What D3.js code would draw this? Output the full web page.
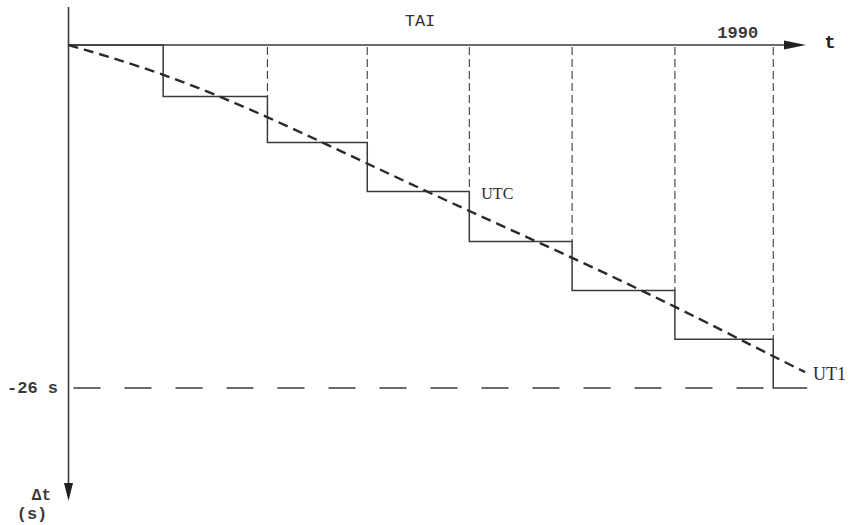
<!DOCTYPE html>
<html>
<head>
<meta charset="utf-8">
<script src="https://cdn.jsdelivr.net/npm/d3@7/dist/d3.min.js"></script>
<style>
  html, body { margin: 0; padding: 0; background: #fff; }
  svg { display: block; }
</style>
</head>
<body>
<svg id="chart" width="850" height="525"></svg>
<script>
// Time of each leap-second insertion (arbitrary time units along the TAI axis)
const stepTimes = [12.8, 26.9, 40.4, 54.2, 68.1, 82.0, 95.3];
// UTC - TAI offset (s) after each successive step; first entry is the start level
const utcLevels = [0, -3.9, -7.4, -11.1, -14.9, -18.6, -22.3, -26];
// UT1 - TAI (s), sampled along the time axis
const ut1Times  = [0, 12.8, 26.9, 40.4, 54.2, 68.1, 82.0, 95.3, 99.6];
const ut1Values = [0, -2.1, -5.4, -9.0, -12.6, -16.1, -19.8, -23.6, -24.8];
// Reference level marked on the vertical axis
const refLevel = -26;
const refLabel = "-26 s";
const endTime = 99.9;
const yearLabel = "1990";
const yearLabelTime = 90.5;

const svg = d3.select("#chart");
const ink = "#3a3a3a";

const x = d3.scaleLinear().domain([0, 100]).range([68.5, 808]);
const y = d3.scaleLinear().domain([0, -26]).range([45, 388]);

const mono = "'Liberation Mono', 'DejaVu Sans Mono', monospace";
const serif = "'Liberation Serif', 'DejaVu Serif', serif";

// ---- axes ----
// horizontal time axis (TAI) with arrow
svg.append("line")
  .attr("x1", x(0)).attr("y1", y(0))
  .attr("x2", 790).attr("y2", y(0))
  .attr("stroke", ink).attr("stroke-width", 1.6);
svg.append("path")
  .attr("d", `M784,${y(0) - 4.5} L806,${y(0)} L784,${y(0) + 4.5} Z`)
  .attr("fill", "#222");

// vertical Δt axis with arrow
svg.append("line")
  .attr("x1", x(0)).attr("y1", 7)
  .attr("x2", x(0)).attr("y2", 488)
  .attr("stroke", ink).attr("stroke-width", 1.6);
svg.append("path")
  .attr("d", `M${x(0) - 4.5},483 L${x(0)},501 L${x(0) + 4.5},483 Z`)
  .attr("fill", "#222");

// ---- dashed reference level ----
svg.append("line")
  .attr("x1", x(0) + 5).attr("y1", y(refLevel))
  .attr("x2", x(stepTimes[stepTimes.length - 1])).attr("y2", y(refLevel))
  .attr("stroke", ink).attr("stroke-width", 1.3)
  .attr("stroke-dasharray", "27,24");

// ---- dashed guides from the time axis down to each step ----
svg.selectAll("line.guide")
  .data(stepTimes.slice(1).map((t, i) => ({ t, level: utcLevels[i + 1] })))
  .join("line")
  .attr("class", "guide")
  .attr("x1", d => x(d.t)).attr("y1", y(0) + 2)
  .attr("x2", d => x(d.t)).attr("y2", d => y(d.level))
  .attr("stroke", ink).attr("stroke-width", 1.1)
  .attr("stroke-dasharray", "8,4");

// ---- UTC staircase ----
const stairPts = [[0, utcLevels[0]]];
stepTimes.forEach((t, i) => {
  stairPts.push([t, utcLevels[i]]);
  stairPts.push([t, utcLevels[i + 1]]);
});
stairPts.push([endTime, utcLevels[utcLevels.length - 1]]);

svg.append("path")
  .datum(stairPts)
  .attr("d", d3.line().x(d => x(d[0])).y(d => y(d[1])))
  .attr("fill", "none")
  .attr("stroke", ink).attr("stroke-width", 1.5);

// ---- UT1 curve ----
svg.append("path")
  .datum(ut1Times.map((t, i) => [t, ut1Values[i]]))
  .attr("d", d3.line().curve(d3.curveBasis).x(d => x(d[0])).y(d => y(d[1])))
  .attr("fill", "none")
  .attr("stroke", "#2a2a2a").attr("stroke-width", 2.4)
  .attr("stroke-dasharray", "10,6");

// ---- labels ----
svg.append("text").text("TAI")
  .attr("x", 420).attr("y", 26)
  .attr("text-anchor", "middle")
  .attr("font-family", mono).attr("font-size", 17).attr("fill", "#333");

svg.append("text").text(yearLabel)
  .attr("x", x(yearLabelTime)).attr("y", 38)
  .attr("text-anchor", "middle")
  .attr("font-family", mono).attr("font-weight", "bold")
  .attr("font-size", 17).attr("fill", "#3a3a3a");

svg.append("text").text("t")
  .attr("x", 830).attr("y", 48)
  .attr("text-anchor", "middle")
  .attr("font-family", mono).attr("font-weight", "bold")
  .attr("font-size", 19).attr("fill", "#222");

svg.append("text").text("UTC")
  .attr("x", x(stepTimes[3]) + 12).attr("y", 199)
  .attr("font-family", serif).attr("font-size", 16).attr("fill", "#2a2a2a");

svg.append("text").text("UT1")
  .attr("x", 813).attr("y", 380)
  .attr("font-family", serif).attr("font-size", 18).attr("fill", "#2a2a2a");

svg.append("text").text(refLabel)
  .attr("x", 58).attr("y", 393)
  .attr("text-anchor", "end")
  .attr("font-family", mono).attr("font-weight", "bold")
  .attr("font-size", 17).attr("fill", "#3a3a3a");

svg.append("text").text("\u0394t")
  .attr("x", 51).attr("y", 500)
  .attr("text-anchor", "end")
  .attr("font-family", mono).attr("font-weight", "bold")
  .attr("font-size", 16).attr("fill", "#3a3a3a");

svg.append("text").text("(s)")
  .attr("x", 32).attr("y", 519)
  .attr("text-anchor", "middle")
  .attr("font-family", mono).attr("font-weight", "bold")
  .attr("font-size", 17).attr("fill", "#3a3a3a");
</script>
</body>
</html>
